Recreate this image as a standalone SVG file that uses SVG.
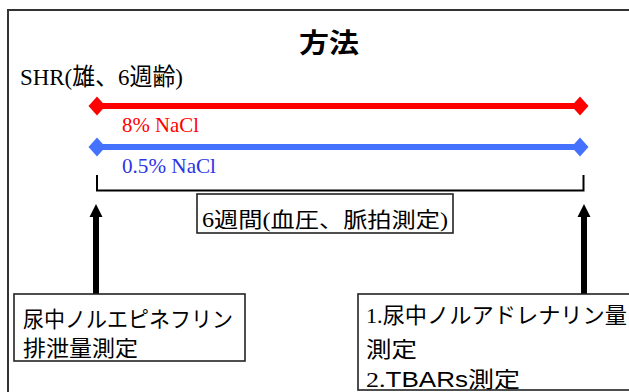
<svg xmlns="http://www.w3.org/2000/svg" width="629" height="392" viewBox="0 0 629 392">
<style>
.frame{fill:#fff;stroke:#333;stroke-width:2}
.box{fill:#fff;stroke:#222;stroke-width:1.6}
.ser{font-family:"Liberation Serif","Noto Sans CJK JP",serif}
.sans{font-family:"Liberation Sans","Noto Sans CJK JP",sans-serif}
.cjk{font-family:"Noto Sans CJK JP","Liberation Sans",sans-serif}
</style>
<defs>
<marker id="dR" viewBox="-9 -10 18 20" markerWidth="18" markerHeight="20" refX="0" refY="0" markerUnits="userSpaceOnUse" orient="auto">
<path d="M-8.5,0 L0,-9.5 L8.5,0 L0,9.5 Z" fill="#FF0000"/>
</marker>
<marker id="dB" viewBox="-9 -10 18 20" markerWidth="18" markerHeight="20" refX="0" refY="0" markerUnits="userSpaceOnUse" orient="auto">
<path d="M-8.5,0 L0,-9.5 L8.5,0 L0,9.5 Z" fill="#4472FF"/>
</marker>
<marker id="ah" viewBox="0 0 14 14" markerWidth="14" markerHeight="14" refX="2" refY="7" markerUnits="userSpaceOnUse" orient="auto">
<path d="M0,0.5 L13,7 L0,13.5 Z" fill="#000"/>
</marker>
</defs>
<rect class="frame" x="8" y="10" width="640" height="400"/>
<g id="title"><text class="cjk" x="299" y="53" font-size="27" font-weight="bold" textLength="60" lengthAdjust="spacingAndGlyphs">方法</text></g>
<g id="shr"><text class="ser" x="20" y="85" font-size="24" textLength="163" lengthAdjust="spacingAndGlyphs">SHR(雄、6週齢)</text></g>
<g id="connectors">
<line x1="97" y1="106" x2="580" y2="106" stroke="#FF0000" stroke-width="6" marker-start="url(#dR)" marker-end="url(#dR)"/>
<line x1="97" y1="147" x2="580" y2="147" stroke="#4472FF" stroke-width="6" marker-start="url(#dB)" marker-end="url(#dB)"/>
<path d="M97,175 V190.5 H583.5 V175" fill="none" stroke="#000" stroke-width="2"/>
<line x1="96" y1="294" x2="96" y2="215" stroke="#000" stroke-width="6" marker-end="url(#ah)"/>
<line x1="584" y1="294" x2="584" y2="215" stroke="#000" stroke-width="6" marker-end="url(#ah)"/>
</g>
<g id="label-8"><text class="ser" x="122" y="132" font-size="22" fill="#FF0000" textLength="77" lengthAdjust="spacingAndGlyphs">8% NaCl</text></g>
<g id="label-05"><text class="ser" x="122" y="173" font-size="22" fill="#2E34E6" textLength="94" lengthAdjust="spacingAndGlyphs">0.5% NaCl</text></g>
<g id="period">
<rect class="box" x="197" y="194" width="256" height="39"/>
<text class="ser" x="202" y="227" font-size="21" textLength="246" lengthAdjust="spacingAndGlyphs">6週間(血圧、脈拍測定)</text>
</g>
<g id="left-box">
<rect class="box" x="14" y="294" width="231" height="67"/>
<text class="cjk" x="23" y="327" font-size="22" textLength="210" lengthAdjust="spacingAndGlyphs">尿中ノルエピネフリン</text>
<text class="cjk" x="23" y="356" font-size="22" textLength="115" lengthAdjust="spacingAndGlyphs">排泄量測定</text>
</g>
<g id="right-box">
<rect class="box" x="358" y="294" width="290" height="96"/>
<text class="ser" x="366" y="323" font-size="22" textLength="261" lengthAdjust="spacingAndGlyphs">1.<tspan class="cjk">尿中ノルアドレナリン量</tspan></text>
<text class="cjk" x="366" y="357" font-size="22" textLength="51" lengthAdjust="spacingAndGlyphs">測定</text>
<text class="ser" x="366" y="387" font-size="22" textLength="154" lengthAdjust="spacingAndGlyphs">2.<tspan class="sans">TBARs測定</tspan></text>
</g>
</svg>
